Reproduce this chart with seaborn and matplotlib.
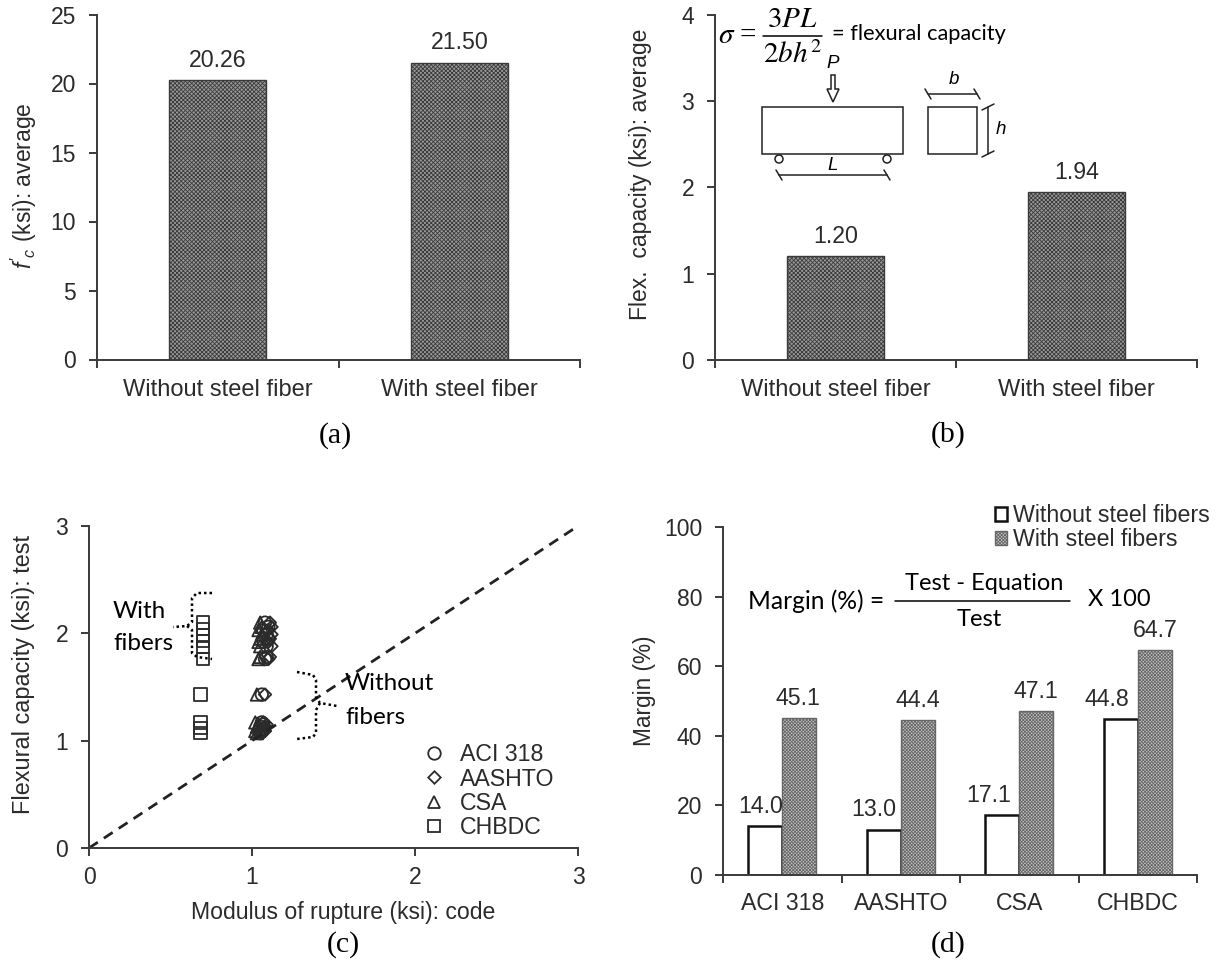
import numpy as np
import pandas as pd
import seaborn as sns
import matplotlib.pyplot as plt

from matplotlib.lines import Line2D
from matplotlib.patches import Patch, Rectangle, Circle, Polygon

W, H = 1222, 964

fiber_labels = ["Without steel fiber", "With steel fiber"]
fc_values = [20.26, 21.50]
flex_values = [1.20, 1.94]

codes = ["ACI 318", "AASHTO", "CSA", "CHBDC"]
margin_without = [14.0, 13.0, 17.1, 44.8]
margin_with = [45.1, 44.4, 47.1, 64.7]

test_values = [2.10, 2.06, 2.03, 1.99, 1.95, 1.92, 1.88, 1.78, 1.76, 1.43, 1.17, 1.15, 1.13, 1.11, 1.09, 1.07]
code_aci = [1.08, 1.10, 1.07, 1.09, 1.10, 1.07, 1.09, 1.09, 1.08, 1.06, 1.06, 1.07, 1.05, 1.07, 1.06, 1.05]
code_aashto = [1.11, 1.12, 1.10, 1.12, 1.11, 1.10, 1.12, 1.11, 1.10, 1.08, 1.07, 1.09, 1.08, 1.07, 1.08, 1.06]
code_csa = [1.05, 1.06, 1.04, 1.06, 1.05, 1.04, 1.05, 1.05, 1.04, 1.03, 1.02, 1.04, 1.03, 1.05, 1.02, 1.03]
test_chbdc = [2.10, 2.04, 1.98, 1.93, 1.87, 1.76, 1.43, 1.17, 1.12, 1.07]
code_chbdc = [0.70, 0.70, 0.70, 0.70, 0.70, 0.70, 0.685, 0.685, 0.685, 0.685]
markers = {"ACI 318": "o", "AASHTO": (4, 0, 0), "CSA": "^", "CHBDC": "s"}
equal_line = [0, 3]

dark = "#2b2b2b"
sans = "Liberation Sans"
calibri = "Lato"

sns.set_theme(style="ticks")
plt.rcParams["font.family"] = sans
plt.rcParams["hatch.linewidth"] = 0.6
plt.rcParams["mathtext.fontset"] = "custom"
plt.rcParams["mathtext.it"] = "Liberation Sans:italic"
plt.rcParams["mathtext.rm"] = "Liberation Sans"
plt.rcParams["mathtext.bf"] = "Liberation Sans:bold"
plt.rcParams["text.color"] = dark
plt.rcParams["axes.labelcolor"] = dark
plt.rcParams["xtick.color"] = dark
plt.rcParams["ytick.color"] = dark


def px_axes(fig, left, right, top, bottom):
    return fig.add_axes([left / W, 1 - bottom / H, (right - left) / W, (bottom - top) / H])


def style_axis(ax):
    sns.despine(ax=ax)
    for side in ["left", "bottom"]:
        ax.spines[side].set_linewidth(1.4)
        ax.spines[side].set_color("#3a3a3a")
    ax.tick_params(length=5.5, width=1.4, labelsize=16.5, color="#3a3a3a")
    ax.tick_params(axis="y", pad=9.5)


def category_ticks(ax, labels, pad, size):
    n = len(labels)
    ax.set_xlim(-0.5, n - 0.5)
    ax.set_xticks(np.arange(n + 1) - 0.5, [""] * (n + 1))
    ax.set_xticks(range(n), labels, minor=True)
    ax.tick_params(axis="x", which="minor", length=0, pad=pad, labelsize=size)
    ax.set_xlabel("")


def fiber_bars(ax, values):
    df = pd.DataFrame({"group": fiber_labels, "value": values})
    sns.barplot(data=df, x="group", y="value", color="#999999", width=0.4, saturation=1, ax=ax)
    for bar in ax.patches:
        bar.set_hatch("xxxxxxxx")
        bar.set_edgecolor("#3a3a3a")
        bar.set_linewidth(1.0)
    ax.bar_label(ax.containers[0], fmt="%.2f", padding=6, fontsize=16.7)
    category_ticks(ax, fiber_labels, 14, 17)


fig = plt.figure(figsize=(W / 100, H / 100), dpi=100)

# (a)
ax_a = px_axes(fig, 97, 580, 14.5, 359.5)
fiber_bars(ax_a, fc_values)
style_axis(ax_a)
ax_a.set_ylim(0, 25)
ax_a.set_yticks(range(0, 30, 5))
ax_a.set_ylabel(r"$f'_c$ (ksi): average", fontsize=16.5)
ax_a.yaxis.set_label_coords(-0.12, 0.505)

# (b)
ax_b = px_axes(fig, 715, 1197, 14.5, 360)
fiber_bars(ax_b, flex_values)
style_axis(ax_b)
ax_b.set_ylim(0, 4)
ax_b.set_yticks(range(5))
ax_b.set_ylabel("Flex.  capacity (ksi): average", fontsize=16.5)
ax_b.yaxis.set_label_coords(-0.13, 0.536)

# (c)
ax_c = px_axes(fig, 89, 578, 526, 848)
points = pd.DataFrame({
    "code": np.repeat(codes, [len(code_aci), len(code_aashto), len(code_csa), len(code_chbdc)]),
    "rupture": code_aci + code_aashto + code_csa + code_chbdc,
    "test": test_values * 3 + test_chbdc,
})
sns.scatterplot(
    data=points,
    x="rupture",
    y="test",
    style="code",
    markers=markers,
    s=80,
    edgecolor=dark,
    linewidth=1.3,
    legend=False,
    clip_on=False,
    ax=ax_c,
)
for coll in ax_c.collections:
    coll.set_facecolor("none")
    coll.set_edgecolor(dark)
sns.lineplot(x=equal_line, y=equal_line, color="#222222", linestyle=(0, (3.8, 2.6)), linewidth=2, ax=ax_c)
style_axis(ax_c)
ax_c.set_xlim(0, 3)
ax_c.set_ylim(0, 3)
ax_c.set_xticks(range(4))
ax_c.set_yticks(range(4))
ax_c.tick_params(axis="x", pad=7.5)
ax_c.set_xlabel("Modulus of rupture (ksi): code", fontsize=16.6)
ax_c.xaxis.set_label_coords(0.519, -0.165)
ax_c.set_ylabel("Flexural capacity (ksi): test", fontsize=16.9)
ax_c.yaxis.set_label_coords(-0.11, 0.54)
code_handles = [
    Line2D([0], [0], linestyle="none", marker=markers[c], markerfacecolor="none",
           markeredgecolor=dark, markeredgewidth=1.3, markersize=9, label=c)
    for c in codes
]
ax_c.legend(handles=code_handles, loc="lower left", bbox_to_anchor=(0.686, 0.027), frameon=False,
            fontsize=16.7, handlelength=0.8, labelspacing=0.06, handletextpad=0.73, borderpad=0, borderaxespad=0)

# (d)
ax_d = px_axes(fig, 723, 1197, 527, 875)
margins = pd.DataFrame({
    "code": codes * 2,
    "margin": margin_without + margin_with,
    "kind": ["Without steel fibers"] * 4 + ["With steel fibers"] * 4,
})
sns.barplot(
    data=margins,
    x="code",
    y="margin",
    hue="kind",
    palette=["white", "#c6c6c6"],
    width=0.574,
    gap=0,
    saturation=1,
    legend=False,
    ax=ax_d,
)
for bar in ax_d.containers[0]:
    bar.set_edgecolor("#111111")
    bar.set_linewidth(1.8)
for bar in ax_d.containers[1]:
    bar.set_hatch("xxxxxxxxxx")
    bar.set_edgecolor("#666666")
    bar.set_linewidth(1.0)
for container, shifts in zip(ax_d.containers, [[-3, -7, -10, -10], [-1, 0, 0, 0]]):
    for label, dx in zip(ax_d.bar_label(container, fmt="%.1f", padding=6, fontsize=16.7), shifts):
        label.xyann = (dx, 6)
category_ticks(ax_d, codes, 12, 16.7)
style_axis(ax_d)
ax_d.set_ylim(0, 100)
ax_d.set_yticks(range(0, 120, 20))
ax_d.set_ylabel("Margin (%)", fontsize=16.3)
ax_d.yaxis.set_label_coords(-0.142, 0.53)

# overlay in pixel coordinates for the hand drawn notes
ov = fig.add_axes([0, 0, 1, 1], zorder=10)
ov.set_xlim(0, W)
ov.set_ylim(H, 0)
ov.axis("off")
ov.patch.set_alpha(0)

for text, x, y in [("(a)", 335, 436), ("(b)", 948, 435), ("(c)", 343, 945), ("(d)", 948, 945)]:
    ov.text(x, y, text, family="Liberation Serif", fontsize=21.5, color="black", ha="center", va="center")

dots = dict(color="black", linestyle=(0, (1, 1.2)), linewidth=1.8)
ov.plot([212, 197, 192, 192, 187, 173], [593, 593, 598, 622, 626, 627], **dots)
ov.plot([187, 192, 192, 197, 212], [626, 630, 653, 657, 659], **dots)
ov.plot([297, 313, 316, 316, 320, 337], [672, 675, 680, 697, 703, 706], **dots)
ov.plot([320, 316, 316, 313, 297], [703, 710, 733, 737, 739], **dots)
for text, x, y in [("With", 113, 612), ("fibers", 113, 643), ("Without", 345, 683), ("fibers", 345, 717)]:
    ov.text(x, y, text, family=calibri, fontsize=17.5, color="black", ha="left", va="center")

# beam sketch
ink = dict(fill=False, edgecolor="#222222", linewidth=1.1)
ov.add_patch(Rectangle((762, 107), 141, 47, **ink))
ov.add_patch(Rectangle((928, 107), 49, 47, **ink))
ov.add_patch(Circle((779, 159), 4, **ink))
ov.add_patch(Circle((887, 159), 4, **ink))
ov.add_patch(Polygon([(831, 75), (835, 75), (835, 89), (839, 89), (833, 102), (827, 89), (831, 89)], **ink))
thin = dict(color="#222222", linewidth=1.1)
ov.plot([779, 887], [175, 175], **thin)
ov.plot([928, 977], [94, 94], **thin)
ov.plot([988, 988], [107, 154], **thin)
for x, y in [(779, 175), (887, 175), (928, 94), (977, 94)]:
    ov.plot([x - 3, x + 3], [y - 5, y + 5], **thin)
for x, y in [(988, 107), (988, 154)]:
    ov.plot([x - 6, x + 6], [y + 3, y - 3], **thin)
for text, x, y in [("P", 833, 64), ("L", 833, 166), ("b", 954, 79), ("h", 1001, 130)]:
    ov.text(x, y, text, style="italic", fontsize=13.5, color="black", ha="center", va="center")

ov.text(718, 36, r"$\sigma$ =", math_fontfamily="stix", family="Liberation Serif", fontsize=21,
        color="black", ha="left", va="center")
ov.text(792, 19, r"$3PL$", math_fontfamily="stix", fontsize=21, color="black", ha="center", va="center")
ov.text(792, 55, r"$2bh^2$", math_fontfamily="stix", fontsize=21, color="black", ha="center", va="center")
ov.plot([763, 822], [36, 36], color="black", linewidth=1.1)
ov.text(832, 34, "= flexural capacity", family=calibri, fontsize=15.7, color="black", ha="left", va="center")

# margin equation
ov.text(748, 601, "Margin (%) =", family=calibri, fontsize=17.7, color="black", ha="left", va="center")
ov.text(984, 584, "Test - Equation", family=calibri, fontsize=17, color="black", ha="center", va="center")
ov.text(979, 620, "Test", family=calibri, fontsize=17, color="black", ha="center", va="center")
ov.plot([895, 1070], [601, 601], color="black", linewidth=1.1)
ov.text(1088, 599, "X 100", family=calibri, fontsize=17, color="black", ha="left", va="center")

kind_handles = [
    Patch(facecolor="white", edgecolor="#111111", linewidth=1.8, label="Without steel fibers"),
    Patch(facecolor="#c6c6c6", edgecolor="#666666", linewidth=1.0, hatch="xxxxxxxxxx", label="With steel fibers"),
]
ov.legend(handles=kind_handles, loc="upper left", bbox_to_anchor=(995, 504), bbox_transform=ov.transData,
          frameon=False, fontsize=16.7, handlelength=0.52, handleheight=0.52, handletextpad=0.25,
          labelspacing=0.06, borderpad=0, borderaxespad=0)

fig.savefig("out.png", dpi=100, facecolor="white")
